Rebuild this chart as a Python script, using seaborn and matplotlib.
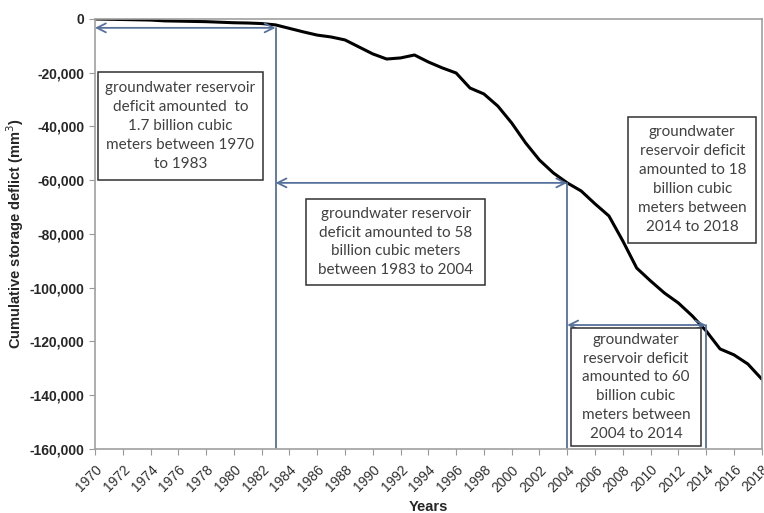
import pandas as pd
import seaborn as sns
import matplotlib.pyplot as plt
from matplotlib.patches import Rectangle
from matplotlib.ticker import FuncFormatter

# Cumulative storage deficit
years = list(range(1970, 2019))
deficit = [0, -100, -200, -300, -400, -700, -800, -900, -1000, -1200,
           -1400, -1500, -1700, -2200, -3500, -4800, -6000, -6700, -7800, -10400,
           -13000, -14900, -14500, -13400, -16000, -18200, -20100, -25700, -27900, -32400,
           -38700, -46100, -52500, -57300, -61000, -64000, -68800, -73300, -82600, -92700,
           -97500, -102000, -105700, -110500, -116100, -122800, -125000, -128400, -134000]

notes = [
    "groundwater reservoir\ndeficit amounted  to\n1.7 billion cubic\nmeters between 1970\nto 1983",
    "groundwater reservoir\ndeficit amounted to 58\nbillion cubic meters\nbetween 1983 to 2004",
    "groundwater\nreservoir deficit\namounted to 18\nbillion cubic\nmeters between\n2014 to 2018",
    "groundwater\nreservoir deficit\namounted to 60\nbillion cubic\nmeters between\n2004 to 2014",
]
# (left, top, width, height) of each note box, in years / mm3
note_boxes = [(1970.2, -19800, 11.9, 40200),
              (1985.2, -67000, 12.9, 32000),
              (2008.4, -36300, 9.2, 46900),
              (2004.3, -115000, 9.3, 43900)]
# double arrows: start year, end year, level
spans = [(1970, 1983, -3300), (1983, 2004, -61000), (2004, 2014, -113900)]

df = pd.DataFrame({'Year': years, 'Deficit': deficit})

sns.set_style("white")
plt.rcParams['font.family'] = ['Liberation Sans', 'DejaVu Sans']

fig = plt.figure(figsize=(7.64, 5.13), dpi=100)
ax = fig.add_axes([0.1243, 0.125, 0.8727, 0.838])

sns.lineplot(data=df, x='Year', y='Deficit', color='black', linewidth=2.2, ax=ax)

arrow_col = '#56719c'
for x0, x1, lvl in spans:
    ax.annotate('', xy=(x1, lvl), xytext=(x0, lvl),
                arrowprops=dict(arrowstyle='<->', color=arrow_col, lw=1.3,
                                mutation_scale=16, shrinkA=0, shrinkB=0))
    if x1 < 2018:
        ax.plot([x1, x1], [lvl, -159500], color=arrow_col, lw=1.3)

for (x0, top, w, h), txt in zip(note_boxes, notes):
    ax.add_patch(Rectangle((x0, top - h), w, h, facecolor='white',
                           edgecolor='#303030', lw=1.1, zorder=5))
    ax.text(x0 + w / 2, top - h / 2, txt, ha='center', va='center',
            fontsize=11, color='#404040', family='Lato',
            linespacing=1.45, zorder=6)

ax.set_xlim(1970, 2018)
ax.set_ylim(-160000, 0)
ax.set_xticks(range(1970, 2019, 2))
ax.set_yticks(range(-160000, 1, 20000))
ax.yaxis.set_major_formatter(FuncFormatter(lambda v, p: f"{int(v):,}"))
ax.tick_params(axis='y', labelsize=10, left=True, length=4, color='#999999')
ax.tick_params(axis='x', labelsize=10, bottom=True, length=4, color='#999999',
               labelrotation=45, labelcolor='#303030', pad=6)
for lab in ax.get_yticklabels():
    lab.set_fontweight('bold')
    lab.set_color('#262626')
for lab in ax.get_xticklabels():
    lab.set_ha('right')
    lab.set_rotation_mode('anchor')

for s in ax.spines.values():
    s.set_color('#a0a0a0')
    s.set_linewidth(1.2)

ax.set_xlabel("Years", fontsize=10.5, fontweight='bold', color='#262626')
ax.set_ylabel("Cumulative storage deflict (mm$^3$)", fontsize=10.5,
              fontweight='bold', color='#262626')
ax.yaxis.set_label_coords(-0.103, 0.5)
ax.xaxis.set_label_coords(0.5, -0.118)

fig.savefig('out.png', dpi=100)
